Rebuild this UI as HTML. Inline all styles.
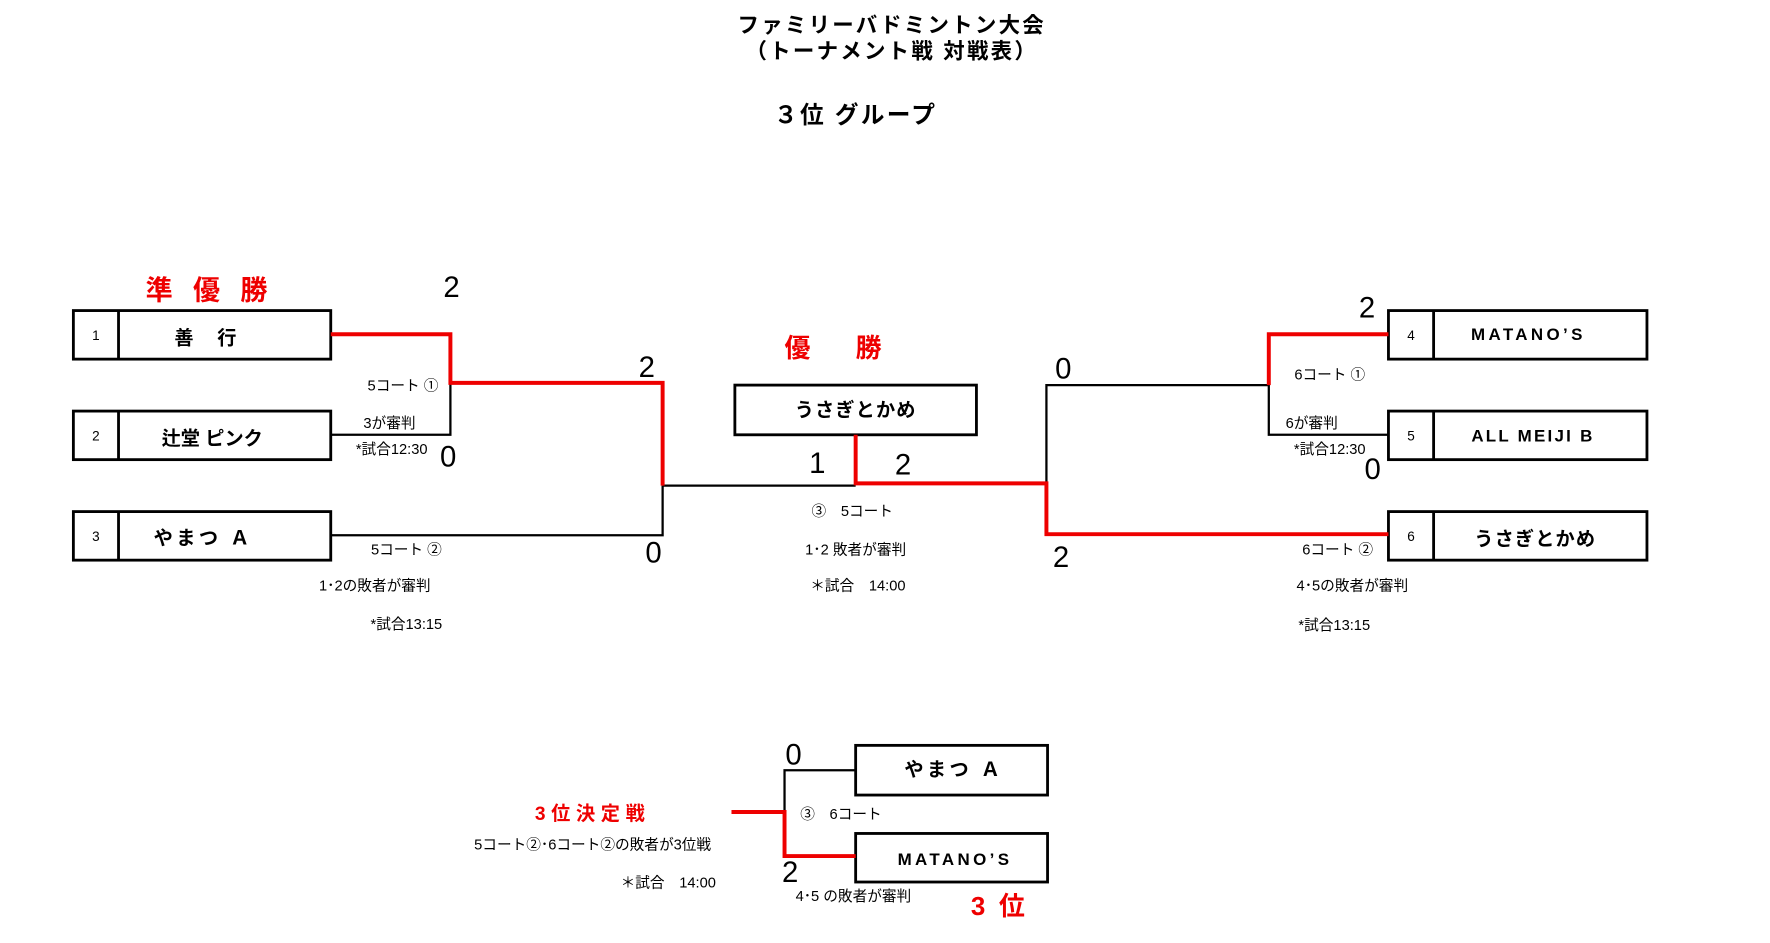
<!DOCTYPE html>
<html><head><meta charset="utf-8"><style>
html,body{margin:0;padding:0;background:#fff;}
svg{display:block;}
text{font-family:"Liberation Sans","Noto Sans CJK JP",sans-serif;}
.b{font-weight:bold;}
</style></head><body>
<svg width="1770" height="943" viewBox="0 0 1568 835" preserveAspectRatio="none" xmlns="http://www.w3.org/2000/svg">
<g text-anchor="middle" fill="#000">
<text x="790" y="29" font-size="19" class="b" letter-spacing="2">ファミリーバドミントン大会</text>
<text x="790" y="52" font-size="19" class="b" letter-spacing="2">（トーナメント戦 対戦表）</text>
<text x="758" y="109" font-size="21" class="b" letter-spacing="2">３位 グループ</text>
</g>
<g fill="none" stroke="#000" stroke-width="2.5">
<rect x="65" y="275" width="228" height="43"/><line x1="105" y1="275" x2="105" y2="318"/>
<rect x="65" y="364" width="228" height="43"/><line x1="105" y1="364" x2="105" y2="407"/>
<rect x="65" y="453" width="228" height="43"/><line x1="105" y1="453" x2="105" y2="496"/>
<rect x="1230" y="275" width="229" height="43"/><line x1="1270" y1="275" x2="1270" y2="318"/>
<rect x="1230" y="364" width="229" height="43"/><line x1="1270" y1="364" x2="1270" y2="407"/>
<rect x="1230" y="453" width="229" height="43"/><line x1="1270" y1="453" x2="1270" y2="496"/>
<rect x="651" y="341" width="214" height="44"/>
<rect x="758" y="660" width="170" height="44"/>
<rect x="758" y="738" width="170" height="43"/>
</g>
<g fill="none" stroke="#000" stroke-width="2">
<polyline points="293,385 399,385 399,339"/>
<polyline points="293,474 587,474 587,430"/>
<line x1="587" y1="430" x2="758" y2="430"/>
<polyline points="927,428 927,341 1124,341 1124,385 1230,385"/>
<polyline points="758,682 695,682 695,719"/>
</g>
<g fill="none" stroke="#e00" stroke-width="3.5">
<polyline points="293,296 399,296 399,339 587,339 587,430"/>
<polyline points="758,385 758,428 927,428 927,473 1230,473"/>
<polyline points="1230,296 1124,296 1124,341"/>
<polyline points="648,719 695,719 695,758 758,758"/>
</g>
<g text-anchor="middle" fill="#000" font-size="12">
<text x="85" y="301">1</text><text x="85" y="390">2</text><text x="85" y="479">3</text>
<text x="1250" y="301">4</text><text x="1250" y="390">5</text><text x="1250" y="479">6</text>
</g>
<g text-anchor="middle" fill="#000" font-size="17" class="b">
<text x="183" y="305" letter-spacing="2">善　行</text>
<text x="188" y="394">辻堂 ピンク</text>
<text x="180" y="482" letter-spacing="3">やまつ Ａ</text>
<text x="1354" y="301" font-size="15" letter-spacing="3">MATANO’S</text>
<text x="1358" y="391" font-size="15" letter-spacing="2">ALL MEIJI B</text>
<text x="1360" y="483" letter-spacing="1">うさぎとかめ</text>
<text x="758" y="369" letter-spacing="1">うさぎとかめ</text>
<text x="845" y="687" letter-spacing="3">やまつ Ａ</text>
<text x="846" y="766" font-size="15" letter-spacing="3">MATANO’S</text>
</g>
<g text-anchor="middle" fill="#000" font-size="26">
<text x="400" y="263">2</text><text x="573" y="334">2</text><text x="397" y="413">0</text><text x="579" y="498">0</text>
<text x="724" y="419">1</text><text x="800" y="420">2</text><text x="942" y="335">0</text><text x="940" y="502">2</text>
<text x="1211" y="281">2</text><text x="1216" y="424">0</text><text x="703" y="677">0</text><text x="700" y="781">2</text>
</g>
<g text-anchor="middle" fill="#000" font-size="13">
<text x="357" y="346">5コート ①</text><text x="345" y="379">3が審判</text><text x="347" y="402">*試合12:30</text>
<text x="360" y="491">5コート ②</text><text x="332" y="523">1･2の敗者が審判</text><text x="360" y="557">*試合13:15</text>
<text x="1178" y="336">6コート ①</text><text x="1162" y="379">6が審判</text><text x="1178" y="402">*試合12:30</text>
<text x="1185" y="491">6コート ②</text><text x="1198" y="523">4･5の敗者が審判</text><text x="1182" y="558">*試合13:15</text>
<text x="755" y="457">③　5コート</text><text x="758" y="491">1･2 敗者が審判</text><text x="760" y="523">＊試合　14:00</text>
<text x="745" y="725">③　6コート</text>
<text x="525" y="752">5コート②･6コート②の敗者が3位戦</text>
<text x="592" y="786">＊試合　14:00</text>
<text x="756" y="798">4･5 の敗者が審判</text>
</g>
<g text-anchor="middle" fill="#e00" class="b">
<text x="192" y="265" font-size="24" letter-spacing="18">準優勝</text>
<text x="758" y="316" font-size="23" letter-spacing="40">優勝</text>
<text x="525" y="726" font-size="17" letter-spacing="5">3位決定戦</text>
<text x="890" y="810" font-size="23" letter-spacing="12">3位</text>
</g>
</svg>
</body></html>
